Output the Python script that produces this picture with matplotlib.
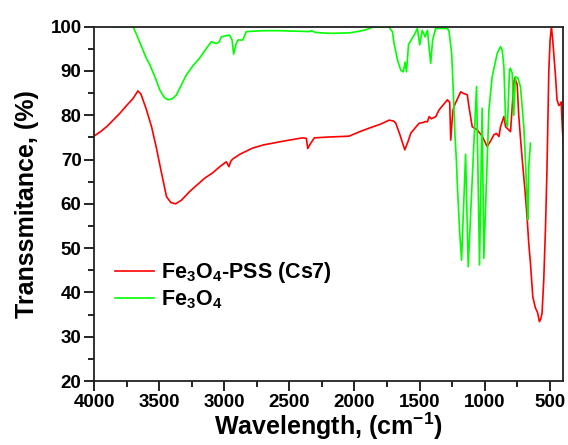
import matplotlib
matplotlib.use("Agg")
import matplotlib.pyplot as plt
from matplotlib.ticker import MultipleLocator

plt.rcParams['font.family'] = 'Liberation Sans'
plt.rcParams['font.weight'] = 'bold'
plt.rcParams['mathtext.fontset'] = 'custom'
plt.rcParams['mathtext.rm'] = 'Liberation Sans:bold'
plt.rcParams['mathtext.it'] = 'Liberation Sans:bold'
plt.rcParams['mathtext.bf'] = 'Liberation Sans:bold'
plt.rcParams['mathtext.default'] = 'rm'

# Fe3O4-PSS (Cs7) spectrum (wavenumber, transmittance)
pss_wn = [4000, 3950, 3900, 3850, 3800, 3750, 3700, 3663, 3640, 3600, 3558, 3520,
          3482, 3443, 3410, 3374, 3330, 3265, 3200, 3150, 3089, 3030, 2984, 2964,
          2950, 2936, 2880, 2782, 2700, 2576, 2480, 2400, 2370, 2359, 2340, 2308,
          2193, 2100, 2040, 1960, 1887, 1800, 1734, 1700, 1683, 1650, 1614, 1590,
          1567, 1504, 1470, 1454, 1440, 1427, 1410, 1376, 1351, 1300, 1287, 1269,
          1261, 1250, 1243, 1236, 1185, 1159, 1134, 1121, 1096, 1057, 1018, 981,
          955, 930, 910, 891, 879, 853, 840, 802, 777, 770, 751, 739, 726, 712,
          688, 675, 662, 649, 631, 611, 595, 580, 570, 560, 547, 534, 522, 508,
          498, 488, 478, 465, 457, 445, 431, 420, 413, 404, 393]
pss_t = [75.3, 76.3, 77.5, 79.0, 80.5, 82.2, 83.8, 85.5, 84.8, 81.5, 77.4, 72.5,
         67.0, 61.6, 60.3, 60.0, 60.8, 62.8, 64.5, 65.8, 67.0, 68.5, 69.5, 68.4,
         69.6, 70.1, 71.2, 72.6, 73.3, 74.0, 74.5, 74.9, 74.8, 72.5, 73.5, 74.9,
         75.1, 75.2, 75.3, 76.3, 77.1, 78.0, 78.9, 78.7, 78.2, 75.5, 72.2, 74.0,
         76.0, 78.2, 78.4, 78.6, 78.5, 79.7, 79.2, 79.7, 81.2, 83.0, 83.5, 82.9,
         74.4, 79.0, 81.2, 82.0, 85.3, 84.9, 84.6, 81.9, 77.4, 76.7, 75.2, 72.9,
         74.2, 75.6, 75.9, 75.2, 77.4, 79.7, 77.4, 76.3, 87.2, 88.4, 87.0, 80.0,
         75.0, 70.0, 62.0, 57.0, 51.0, 46.6, 39.0, 36.5, 35.5, 33.4, 34.0, 35.3,
         42.8, 54.1, 68.0, 90.0, 97.0, 100.0, 97.0, 92.0, 89.0, 83.5, 82.2, 82.5,
         83.0, 77.0, 72.0]

# Fe3O4 spectrum
fe_wn = [3850, 3700, 3670, 3635, 3600, 3571, 3530, 3495, 3460, 3431, 3400, 3367,
         3330, 3291, 3240, 3189, 3140, 3099, 3061, 3040, 3023, 2980, 2959, 2940,
         2928, 2910, 2895, 2857, 2831, 2700, 2576, 2346, 2330, 2300, 2193, 2040,
         1960, 1912, 1861, 1734, 1708, 1696, 1670, 1645, 1626, 1611, 1601, 1585,
         1542, 1517, 1499, 1480, 1458, 1440, 1415, 1400, 1377, 1287, 1274, 1254,
         1243, 1228, 1218, 1211, 1192, 1178, 1147, 1127, 1063, 1040, 1020, 1007,
         968, 943, 904, 879, 866, 853, 840, 826, 810, 803, 789, 777, 764, 746,
         726, 700, 688, 675, 669, 662, 649]
fe_t = [100.0, 100.0, 98.0, 95.5, 93.0, 91.4, 88.5, 85.7, 84.0, 83.5, 83.7, 84.6,
        86.8, 89.1, 91.2, 92.9, 95.0, 96.6, 96.2, 96.5, 97.7, 98.0, 98.1, 97.0,
        93.8, 96.0, 97.0, 97.0, 98.9, 99.1, 99.1, 98.9, 99.1, 98.7, 98.5, 98.6,
        99.0, 99.3, 99.9, 99.9, 98.8, 96.2, 92.5, 90.2, 89.8, 92.0, 89.8, 96.0,
        98.1, 99.6, 95.9, 99.2, 97.7, 99.2, 91.7, 97.0, 99.6, 99.6, 99.0, 94.0,
        86.5, 75.2, 70.0, 64.7, 53.4, 47.3, 71.2, 45.8, 86.5, 46.2, 81.6, 47.7,
        81.2, 88.7, 94.0, 95.5, 94.7, 91.0, 78.9, 77.4, 90.2, 90.6, 89.5, 80.0,
        88.7, 88.4, 86.5, 77.4, 70.0, 60.9, 56.4, 68.4, 73.7]

fig = plt.figure(figsize=(5.68, 4.45), dpi=100)
ax = fig.add_axes([0.1655, 0.1438, 0.8255, 0.7962])

ax.plot(pss_wn, pss_t, color='#ff0000', lw=1.2, label=r'Fe$_{3}$O$_{4}$-PSS (Cs7)')
ax.plot(fe_wn, fe_t, color='#00ff00', lw=1.2, label=r'Fe$_{3}$O$_{4}$')

ax.set_xlim(4000, 400)
ax.set_ylim(20, 100)
ax.xaxis.set_major_locator(MultipleLocator(500))
ax.xaxis.set_minor_locator(MultipleLocator(250))
ax.yaxis.set_major_locator(MultipleLocator(10))
ax.yaxis.set_minor_locator(MultipleLocator(5))
ax.tick_params(which='major', direction='out', length=7, width=1.2, labelsize=13.5, pad=2)
ax.tick_params(which='minor', direction='out', length=4, width=1.2)
for s in ax.spines.values():
    s.set_linewidth(1.3)
    s.set_color('#222222')

ax.set_xlabel(r'Wavelength, (cm$^{-1}$)', fontsize=18, fontweight='bold', labelpad=0)
ax.set_ylabel('Transsmitance, (%)', fontsize=18, fontweight='bold', labelpad=8)

ax.legend(loc='upper left', bbox_to_anchor=(0.003, 0.395), frameon=False,
          fontsize=15.5, handlelength=1.8, handletextpad=0.35, labelspacing=0.15)

fig.savefig('out.png', dpi=100)
